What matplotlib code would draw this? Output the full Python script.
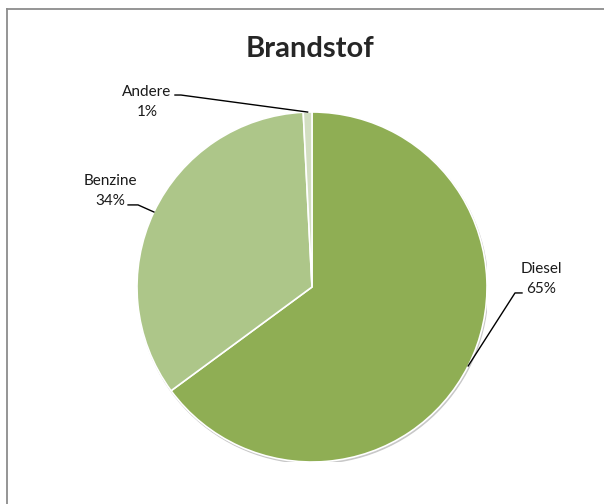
import numpy as np
import matplotlib.pyplot as plt
from matplotlib.lines import Line2D

plt.rcParams['font.family'] = ['Lato', 'DejaVu Sans']

# data
labels = ["Diesel", "Benzine", "Andere"]
values = [64.9, 34.3, 0.8]
colors = ["#8fae54", "#adc689", "#d2dec1"]

# label placement (data units, pie radius = 1): text centre, elbow end, horizontal end
label_pos = [(1.31, 0.046), (-1.154, 0.549), (-0.943, 1.057)]
elbow_pos = [(1.16, -0.034), (-0.994, 0.469), (-0.749, 1.097)]
tail_pos = [(1.20, -0.034), (-1.051, 0.469), (-0.783, 1.097)]

W, H = 604, 504
cx, cy, r = 312, 287, 175

fig = plt.figure(figsize=(W / 100, H / 100), dpi=100)
ax = fig.add_axes([(cx - r) / W, (H - cy - r) / H, 2 * r / W, 2 * r / H])

# faint shadow under the pie
ax.add_patch(plt.Circle((0.005, -0.009), 1.0, color="#c8c8c8", zorder=0))

wedges, _ = ax.pie(values, colors=colors, startangle=90, counterclock=False,
                   radius=1, wedgeprops=dict(edgecolor="white", linewidth=1.2))
ax.set_xlim(-1, 1)
ax.set_ylim(-1, 1)
ax.set_aspect("equal")
ax.axis("off")

total = sum(values)
for w, lab, v, tp, ep, hp in zip(wedges, labels, values, label_pos, elbow_pos, tail_pos):
    ang = np.deg2rad((w.theta1 + w.theta2) / 2)
    x0, y0 = np.cos(ang), np.sin(ang)
    ax.plot([x0, ep[0], hp[0]], [y0, ep[1], hp[1]], color="black", lw=1,
            clip_on=False)
    ax.text(tp[0], tp[1], f"{lab}\n{round(v / total * 100)}%", ha="center",
            va="center", fontsize=11, linespacing=1.5, color="#1a1a1a")

fig.text(310 / W, 1 - 49 / H, "Brandstof", ha="center", va="center",
         fontsize=21, fontweight="bold", color="#262626")

# chart frame (cropped at right and bottom)
fig.add_artist(Line2D([7 / W, 7 / W], [0, 1 - 9 / H], transform=fig.transFigure,
                      color="#8c8c8c", lw=1.3))
fig.add_artist(Line2D([7 / W, 1], [1 - 9 / H, 1 - 9 / H], transform=fig.transFigure,
                      color="#8c8c8c", lw=1.3))

plt.savefig("out.png", dpi=100)
plt.close(fig)
